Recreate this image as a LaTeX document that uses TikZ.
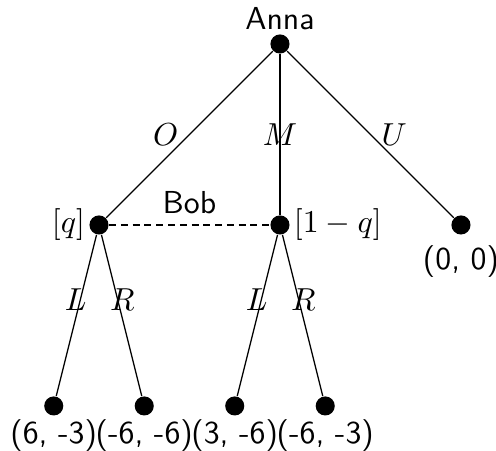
\documentclass[tikz,border=0pt]{standalone}
\usepackage{amsmath}
\usepackage{tikz}
\usetikzlibrary{positioning}

\begin{document}
\begin{tikzpicture}[
    font=\sffamily,
    nodedot/.style={circle, fill, inner sep=0pt, minimum size=6pt},
    every label/.style={inner sep=1pt},
    infoset/.style={dash pattern=on 2.2pt off 1.5pt},
    lleft/.style={pos=0.4, xshift=-1.5pt},
    lright/.style={pos=0.4, xshift=1.5pt},
    node distance=2cm and 2cm, on grid
]
\useasboundingbox (-3.094,-4.497) rectangle (2.387,0.486);
\node[nodedot, label=above:Anna] (anna) at (0,0) {};
\node[nodedot, label=left:{$[q]$}, below left=2cm and 2cm of anna] (bobl) {};
\node[nodedot, label=right:{$[1-q]$}, below=2cm of anna] (bobm) {};
\node[nodedot, label={[label distance=2pt]below:{(0, 0)}}, below right=2cm and 2cm of anna] (endu) {};
\node[nodedot, label=below:{(6, -3)}, below left=2cm and 0.5cm of bobl] (endol) {};
\node[nodedot, label=below:{(-6, -6)}, below right=2cm and 0.5cm of bobl] (endor) {};
\node[nodedot, label=below:{(3, -6)}, below left=2cm and 0.5cm of bobm] (endml) {};
\node[nodedot, label=below:{(-6, -3)}, below right=2cm and 0.5cm of bobm] (endmr) {};
\draw (anna) -- node[left] {$O$} (bobl);
\draw (anna) -- node {$M$} (bobm);
\draw (anna) -- node[right] {$U$} (endu);
\draw[infoset] (bobl) -- node[above] {Bob} (bobm);
\draw (bobl) -- node[lleft] {$L$} (endol);
\draw (bobl) -- node[lright] {$R$} (endor);
\draw (bobm) -- node[lleft] {$L$} (endml);
\draw (bobm) -- node[lright] {$R$} (endmr);
\end{tikzpicture}
\end{document}
